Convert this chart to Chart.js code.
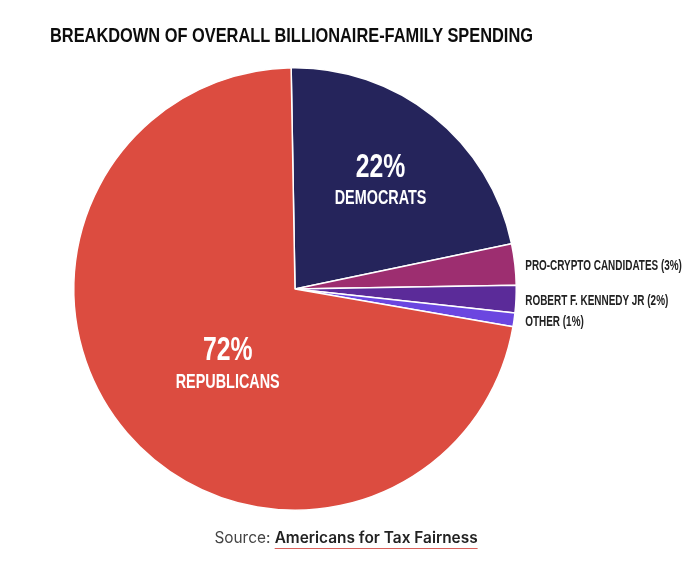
<!DOCTYPE html>
<html>
<head>
<meta charset="utf-8">
<script src="https://cdn.jsdelivr.net/npm/chart.js@4.4.1/dist/chart.umd.min.js"></script>
<style>
  html, body { margin: 0; padding: 0; background: #ffffff; }
  #wrap { position: relative; width: 700px; height: 588px; overflow: hidden; }
  #c { position: absolute; left: 0; top: 0; }
  #title { position: absolute; left: 50px; top: 24px; font-family: 'Liberation Sans', Arial, sans-serif; font-weight: 700; font-size: 20px; line-height: 22px; color: #0d0d0d; white-space: nowrap; transform-origin: 0 50%; }
  #source { position: absolute; left: 0; width: 692px; top: 528px; text-align: center; font-family: Inter, 'Noto Sans', sans-serif; font-size: 15.4px; line-height: 20px; color: #444; white-space: nowrap; }
  #source b { font-weight: 600; color: #222; text-decoration: underline; text-decoration-color: #d9605a; text-decoration-thickness: 1.2px; text-underline-offset: 5px; }
</style>
</head>
<body>
<div id="wrap">
  <canvas id="c" width="700" height="588"></canvas>
  <div id="title">BREAKDOWN OF OVERALL BILLIONAIRE-FAMILY SPENDING</div>
  <div id="source">Source: <b>Americans for Tax Fairness</b></div>
</div>
<script>
// ---- data ----
const categories = ['DEMOCRATS', 'PRO-CRYPTO CANDIDATES', 'ROBERT F. KENNEDY JR', 'OTHER', 'REPUBLICANS'];
const shares = [22, 3, 2, 1, 72];
const sliceColors = ['#25245b', '#9d2e70', '#5b2b99', '#6b46e0', '#dc4c40'];
// labels drawn inside the slice (big) vs. outside to the right (small)
const insideLabels = ['DEMOCRATS', 'REPUBLICANS'];

// condense the title to the reference's narrow look
(function () {
  const t = document.getElementById('title');
  const w = t.getBoundingClientRect().width;
  t.style.transform = 'scaleX(' + (483 / w) + ')';
})();

const FONT = "'Liberation Sans', Arial, sans-serif";
function narrowText(ctx, text, x, y, squeeze) {
  ctx.save();
  ctx.translate(x, y);
  ctx.scale(squeeze, 1);
  ctx.fillText(text, 0, 0);
  ctx.restore();
}

const labelPlugin = {
  id: 'sliceLabels',
  afterDatasetsDraw(chart) {
    const ctx = chart.ctx;
    const meta = chart.getDatasetMeta(0);
    ctx.save();
    meta.data.forEach((arc, i) => {
      const p = arc.getProps(['x', 'y', 'startAngle', 'endAngle', 'outerRadius'], true);
      const mid = (p.startAngle + p.endAngle) / 2;
      const name = categories[i];
      const pct = shares[i] + '%';
      if (insideLabels.includes(name)) {
        let frac = 0.62, ang = mid;
        if (name === 'REPUBLICANS') { frac = 0.46; ang = mid - 8 * Math.PI / 180; }
        const lx = p.x + Math.cos(ang) * p.outerRadius * frac;
        const ly = p.y + Math.sin(ang) * p.outerRadius * frac;
        ctx.fillStyle = '#ffffff';
        ctx.textAlign = 'center';
        ctx.textBaseline = 'middle';
        ctx.font = 'bold 33px ' + FONT;
        narrowText(ctx, pct, lx, ly - 14, 0.75);
        ctx.font = 'bold 20px ' + FONT;
        narrowText(ctx, name, lx, ly + 17, 0.72);
      } else {
        const lx = p.x + p.outerRadius + 9;
        const ly = p.y + Math.sin(mid) * p.outerRadius + 2;
        ctx.fillStyle = '#222222';
        ctx.textAlign = 'left';
        ctx.textBaseline = 'middle';
        ctx.font = 'bold 14px ' + FONT;
        narrowText(ctx, name + ' (' + pct + ')', lx, ly, 0.71);
      }
    });
    ctx.restore();
  }
};

new Chart(document.getElementById('c'), {
  type: 'pie',
  data: {
    labels: categories,
    datasets: [{
      data: shares,
      backgroundColor: sliceColors,
      borderColor: '#ffffff',
      borderWidth: 1.5
    }]
  },
  options: {
    responsive: false,
    animation: false,
    rotation: -1,
    layout: { padding: { left: 73, right: 183, top: 67, bottom: 77 } },
    plugins: {
      legend: { display: false },
      tooltip: { enabled: false },
      title: { display: false }
    }
  },
  plugins: [labelPlugin]
});
</script>
</body>
</html>
